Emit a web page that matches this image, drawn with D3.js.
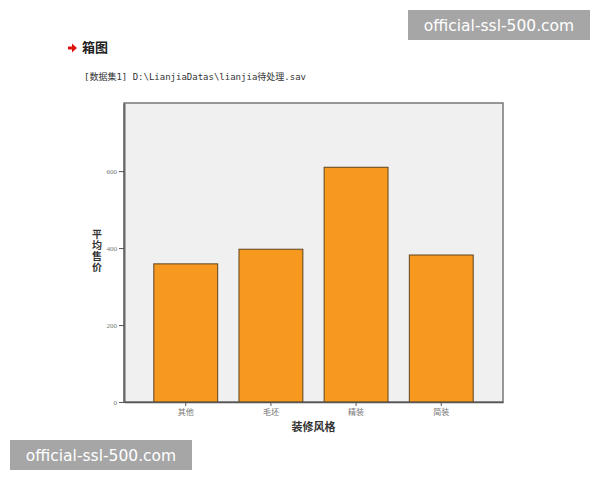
<!DOCTYPE html>
<html><head><meta charset="utf-8">
<script src="https://cdn.jsdelivr.net/npm/d3@7"></script>
<style>body{margin:0;background:#fff;} svg{display:block;}</style>
</head><body>
<svg id="chart" width="600" height="480"></svg>
<script>
const categories = ["其他", "毛坯", "精装", "简装"];
const values = [359, 397, 610, 382];
const yTicks = [0, 200, 400, 600];
const title = "箱图";
const subtitle = "[数据集1]  D:\\LianjiaDatas\\lianjia待处理.sav";
const xTitle = "装修风格";
const yTitle = "平均售价";
const watermark = "official-ssl-500.com";

const svg = d3.select("#chart");
const L = 124, R = 503, T = 103, B = 402;
const x = d3.scaleBand().domain(categories).range([L, R]).paddingInner(0.25).paddingOuter(0.35);
const y = d3.scaleLinear().domain([0, 777]).range([B, T]);

// title area
svg.append("path").attr("d", "M68,46.5 L72,46.5 L72,43.5 L77,48 L72,52.5 L72,49.5 L68,49.5 Z").attr("fill", "#e01010");
svg.append("text").attr("x", 82).attr("y", 52).text(title)
  .attr("font-family", "Noto Sans CJK SC").attr("font-weight", "bold").attr("font-size", 13).attr("fill", "#222");
svg.append("text").attr("x", 84).attr("y", 80).text(subtitle)
  .attr("font-family", "DejaVu Sans Mono, Noto Sans CJK SC").attr("font-size", 9).attr("fill", "#333");

// plot background
svg.append("rect").attr("x", L).attr("y", T).attr("width", R - L).attr("height", B - T)
  .attr("fill", "#f0f0f0").attr("stroke", "#777").attr("stroke-width", 1.5);

// bars
svg.append("g").selectAll("rect").data(values).join("rect")
  .attr("x", (d, i) => x(categories[i]))
  .attr("y", d => y(d))
  .attr("width", x.bandwidth())
  .attr("height", d => y(0) - y(d))
  .attr("fill", "#f7991e").attr("stroke", "#5e4420").attr("stroke-width", 1);

// axes
const yAxis = svg.append("g").attr("transform", `translate(${L},0)`)
  .call(d3.axisLeft(y).tickValues(yTicks).tickSize(5).tickSizeOuter(0).tickPadding(2));
yAxis.select(".domain").attr("stroke", "#666").attr("stroke-width", 2);
yAxis.selectAll(".tick line").attr("stroke", "#555");
yAxis.selectAll("text").attr("font-family", "Liberation Serif").attr("font-size", 7).attr("fill", "#777");

const xAxis = svg.append("g").attr("transform", `translate(0,${B})`)
  .call(d3.axisBottom(x).tickSize(4).tickSizeOuter(0).tickPadding(3));
xAxis.select(".domain").attr("stroke", "#555").attr("stroke-width", 1.5);
xAxis.selectAll(".tick line").attr("stroke", "#555");
xAxis.selectAll("text").attr("font-family", "Noto Sans CJK SC").attr("font-size", 8).attr("fill", "#777");

svg.append("text").attr("x", (L + R) / 2).attr("y", 431).attr("text-anchor", "middle").text(xTitle)
  .attr("font-family", "Noto Sans CJK SC").attr("font-weight", "bold").attr("font-size", 11).attr("fill", "#333");

svg.append("text").attr("x", 97).attr("y", 229)
  .style("writing-mode", "vertical-rl").style("letter-spacing", "1px")
  .text(yTitle)
  .attr("font-family", "Noto Sans CJK SC").attr("font-weight", "bold").attr("font-size", 10).attr("fill", "#333");

// watermarks
function wm(x0, y0) {
  svg.append("rect").attr("x", x0).attr("y", y0).attr("width", 182).attr("height", 30).attr("fill", "#a6a6a6");
  svg.append("text").attr("x", x0 + 91).attr("y", y0 + 21).attr("text-anchor", "middle").text(watermark)
    .attr("font-family", "DejaVu Sans").attr("font-size", 15.5).attr("fill", "#fff");
}
wm(408, 10);
wm(10, 440);
</script>
</body></html>
